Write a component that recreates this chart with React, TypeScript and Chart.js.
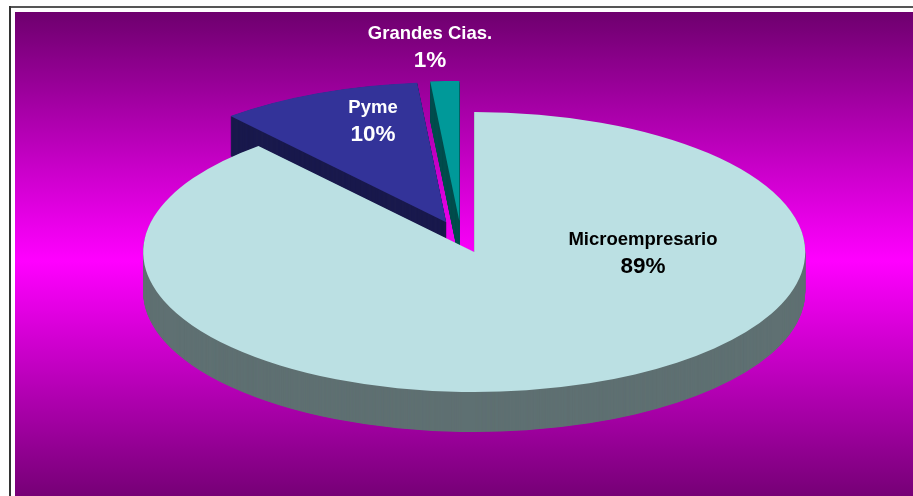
import React, { useEffect, useRef } from "react";
import { Chart, registerables } from "chart.js";

Chart.register(...registerables);

const categories = ["Microempresario", "Pyme", "Grandes Cias."];
const shares = [88.7, 9.9, 1.4];
const topColors = ["#BBE0E3", "#333399", "#009999"];
const sideColors = ["#5F7072", "#1A1A4D", "#004D4D"];
const labelColors = ["#000000", "#FFFFFF", "#FFFFFF"];
const labelAnchors = [
  { x: 643, y: 240 },
  { x: 373, y: 108 },
  { x: 430, y: 34 },
];

const SQUASH = 0.423;
const DEPTH = 40;
const EXPLODE = 38;
const RADIUS = 331;

const piePlugin = {
  id: "pie3d",
  beforeDraw(chart: any) {
    const { ctx } = chart;
    ctx.save();
    ctx.fillStyle = "#FFFFFF";
    ctx.fillRect(0, 0, 913, 496);
    ctx.fillStyle = "#555555";
    ctx.fillRect(9, 6, 904, 2);
    ctx.fillStyle = "#333333";
    ctx.fillRect(9, 6, 2, 490);
    const g = ctx.createLinearGradient(0, 12, 0, 510);
    g.addColorStop(0, "#6E006E");
    g.addColorStop(0.5, "#FF00FF");
    g.addColorStop(1, "#6E006E");
    ctx.fillStyle = g;
    ctx.fillRect(15, 12, 898, 484);
    ctx.restore();
  },
  beforeDatasetsDraw(chart: any) {
    const { ctx } = chart;
    const meta = chart.getDatasetMeta(0);
    const drawSlice = (i: number, dy: number, color: string) => {
      const arc = meta.data[i];
      const { x, y, startAngle, endAngle } = arc.getProps(["x", "y", "startAngle", "endAngle"], true);
      const mid = (startAngle + endAngle) / 2;
      ctx.save();
      ctx.translate(x, y + dy);
      ctx.scale(1, SQUASH);
      ctx.translate(-x + Math.cos(mid) * EXPLODE, -y + Math.sin(mid) * EXPLODE);
      const saved = arc.options.backgroundColor;
      arc.options.backgroundColor = color;
      arc.draw(ctx);
      arc.options.backgroundColor = saved;
      ctx.restore();
    };
    for (const i of [1, 2, 0]) {
      for (let d = DEPTH; d >= 0.5; d -= 0.5) drawSlice(i, d, sideColors[i]);
      drawSlice(i, 0, topColors[i]);
    }
    return false;
  },
  afterDraw(chart: any) {
    const { ctx } = chart;
    ctx.save();
    ctx.textAlign = "center";
    ctx.textBaseline = "middle";
    categories.forEach((name, i) => {
      ctx.fillStyle = labelColors[i];
      ctx.font = 'bold 18.5px "Liberation Sans"';
      ctx.fillText(name, labelAnchors[i].x, labelAnchors[i].y);
      ctx.font = 'bold 22.5px "Liberation Sans"';
      ctx.fillText(Math.round(shares[i]) + "%", labelAnchors[i].x, labelAnchors[i].y + 27);
    });
    ctx.restore();
  },
};

export default function App() {
  const ref = useRef<HTMLCanvasElement>(null);
  useEffect(() => {
    document.body.style.margin = "0";
    const chart = new Chart(ref.current as HTMLCanvasElement, {
      type: "pie",
      data: {
        labels: categories,
        datasets: [{ data: shares, backgroundColor: topColors, borderWidth: 0 }],
      },
      plugins: [piePlugin],
      options: {
        responsive: false,
        animation: false,
        radius: RADIUS,
        layout: { padding: { left: 9, bottom: 22 } },
        plugins: { legend: { display: false }, tooltip: { enabled: false }, title: { display: false } },
      },
    } as any);
    return () => chart.destroy();
  }, []);
  return <canvas ref={ref} width={913} height={496} style={{ display: "block" }} />;
}
